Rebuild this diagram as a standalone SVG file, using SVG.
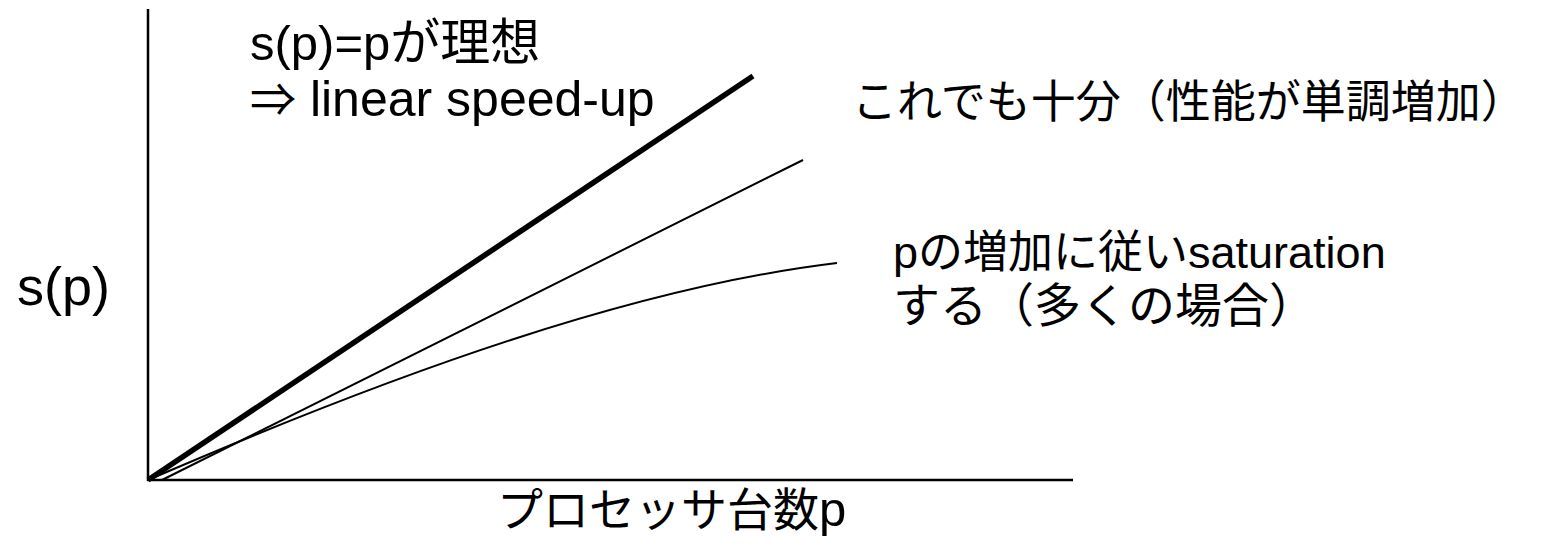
<svg xmlns="http://www.w3.org/2000/svg" width="1541" height="547" viewBox="0 0 1541 547">
<style>
  .t { font-family: "Liberation Sans", "Noto Sans CJK JP", sans-serif; font-size: 49px; fill: #000; }
  .j { font-size: 46px; }
  .ax { stroke: #000; stroke-width: 2.5; fill: none; }
  .thin { stroke: #000; stroke-width: 2; fill: none; }
  .thick { stroke: #000; stroke-width: 5.5; fill: none; }
</style>
<rect width="1541" height="547" fill="#fff"/>
<g id="axes">
  <line class="ax" x1="148" y1="9" x2="148" y2="481"/>
  <line class="ax" x1="147" y1="480" x2="1073" y2="480"/>
</g>
<g id="connectors">
  <line id="ideal" class="thick" x1="148" y1="480" x2="753" y2="76"/>
  <line id="monotonic" class="thin" x1="162" y1="480" x2="803" y2="160"/>
  <path id="saturation" class="thin" d="M148,480 C398,372 636,287 837,263"/>
</g>
<g id="label-ideal">
  <text class="t" x="250" y="60">s(p)=p<tspan class="j" style="font-size:50px">が理想</tspan></text>
  <text class="t" x="250" y="116" style="font-size:50px"><tspan class="j">⇒</tspan> linear speed-up</text>
</g>
<g id="label-monotonic">
  <text class="t" x="852" y="118" style="font-size:45px">これでも十分（性能が単調増加）</text>
</g>
<g id="label-saturation">
  <text class="t" x="893" y="268" style="font-size:45px">p<tspan>の増加に従い</tspan>saturation</text>
  <text class="t" x="893" y="322" style="font-size:47px">する（多くの場合）</text>
</g>
<g id="label-y">
  <text class="t" x="17" y="305" style="font-size:54px">s(p)</text>
</g>
<g id="label-x">
  <text class="t" x="497" y="526"><tspan class="j">プロセッサ台数</tspan>p</text>
</g>
</svg>
